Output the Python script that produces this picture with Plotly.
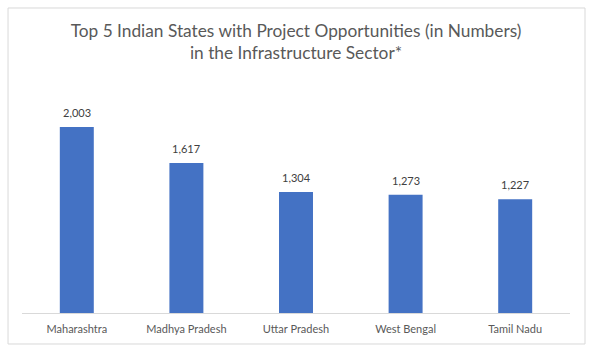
import plotly.graph_objects as go

states = ["Maharashtra", "Madhya Pradesh", "Uttar Pradesh", "West Bengal", "Tamil Nadu"]
projects = [2003, 1617, 1304, 1273, 1227]
value_labels = ["2,003", "1,617", "1,304", "1,273", "1,227"]
title_text = "Top 5 Indian States with Project Opportunities (in Numbers)<br>in the Infrastructure Sector*"

FONT = "Lato"

fig = go.Figure()
fig.add_trace(go.Bar(x=states, y=projects, marker_color="#4472C4", marker_line_width=0,
                     hoverinfo="x+y"))

for s, v, lab in zip(states, projects, value_labels):
    fig.add_annotation(x=s, y=v, text=lab, showarrow=False, yanchor="bottom", yshift=6,
                       font=dict(family=FONT, size=11, color="#404040"))

fig.add_shape(type="rect", xref="paper", yref="paper",
              x0=-0.0255, x1=1.0274, y0=-0.1336, y1=1.3147,
              line=dict(color="#D9D9D9", width=1), fillcolor="rgba(0,0,0,0)", layer="below")

fig.update_layout(
    width=592, height=352,
    margin=dict(l=22, r=22, t=81, b=39),
    paper_bgcolor="white", plot_bgcolor="white",
    bargap=0.69,
    showlegend=False,
    title=dict(text=title_text, x=0.5, xanchor="center", y=1 - 37 / 352, yanchor="middle",
               font=dict(family=FONT, size=17.3, color="#595959")),
    xaxis=dict(showline=True, linecolor="#D9D9D9", linewidth=1, ticks="",
               ticklabelstandoff=6,
               tickfont=dict(family=FONT, size=11, color="#595959"), showgrid=False),
    yaxis=dict(range=[0, 2500], visible=False, showgrid=False),
)

fig.write_html("out.html")
